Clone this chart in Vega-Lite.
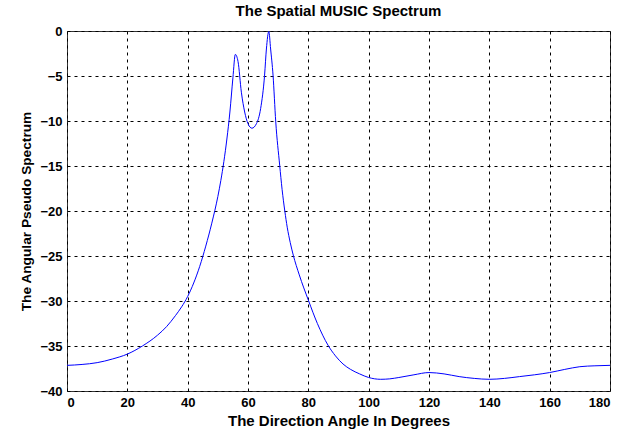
{
  "$schema": "https://vega.github.io/schema/vega-lite/v6.json",
  "width": 543,
  "height": 360,
  "autosize": {"type": "none"},
  "padding": {"left": 67, "top": 31, "right": 14, "bottom": 41},
  "background": "white",
  "title": {"text": "The Spatial MUSIC Spectrum", "font": "Liberation Sans", "fontSize": 15, "fontWeight": "bold", "color": "black", "offset": 6, "anchor": "middle"},
  "data": {"values": [
    {"angle": 0, "spectrum": -37.15},
    {"angle": 5, "spectrum": -37.05},
    {"angle": 10, "spectrum": -36.85},
    {"angle": 15, "spectrum": -36.45},
    {"angle": 20, "spectrum": -35.9},
    {"angle": 25, "spectrum": -35.0},
    {"angle": 30, "spectrum": -33.8},
    {"angle": 33, "spectrum": -32.85},
    {"angle": 36, "spectrum": -31.6},
    {"angle": 38, "spectrum": -30.65},
    {"angle": 40, "spectrum": -29.5},
    {"angle": 42, "spectrum": -28.0},
    {"angle": 44, "spectrum": -26.15},
    {"angle": 46, "spectrum": -23.9},
    {"angle": 48, "spectrum": -21.35},
    {"angle": 50, "spectrum": -18.4},
    {"angle": 51, "spectrum": -16.6},
    {"angle": 52, "spectrum": -14.5},
    {"angle": 53, "spectrum": -12.0},
    {"angle": 54, "spectrum": -9.0},
    {"angle": 55, "spectrum": -5.2},
    {"angle": 55.8, "spectrum": -2.6},
    {"angle": 56.7, "spectrum": -3.4},
    {"angle": 57.8, "spectrum": -6.8},
    {"angle": 58.9, "spectrum": -9.0},
    {"angle": 60, "spectrum": -10.3},
    {"angle": 61.3, "spectrum": -10.8},
    {"angle": 62.8, "spectrum": -10.3},
    {"angle": 64.2, "spectrum": -8.6},
    {"angle": 65.5, "spectrum": -4.9},
    {"angle": 66.1, "spectrum": -2.0},
    {"angle": 66.9, "spectrum": -0.05},
    {"angle": 67.5, "spectrum": -2.0},
    {"angle": 68.3, "spectrum": -4.9},
    {"angle": 69.2, "spectrum": -10.1},
    {"angle": 70.5, "spectrum": -14.9},
    {"angle": 71.3, "spectrum": -17.6},
    {"angle": 72.2, "spectrum": -20.0},
    {"angle": 73, "spectrum": -21.8},
    {"angle": 74, "spectrum": -23.5},
    {"angle": 75, "spectrum": -24.9},
    {"angle": 77, "spectrum": -27.1},
    {"angle": 80, "spectrum": -29.9},
    {"angle": 83, "spectrum": -32.5},
    {"angle": 86.5, "spectrum": -34.9},
    {"angle": 89, "spectrum": -36.1},
    {"angle": 91.5, "spectrum": -37.0},
    {"angle": 94, "spectrum": -37.6},
    {"angle": 97, "spectrum": -38.1},
    {"angle": 100, "spectrum": -38.5},
    {"angle": 104, "spectrum": -38.7},
    {"angle": 107, "spectrum": -38.65},
    {"angle": 110, "spectrum": -38.5},
    {"angle": 115, "spectrum": -38.2},
    {"angle": 120, "spectrum": -37.95},
    {"angle": 125, "spectrum": -38.1},
    {"angle": 130, "spectrum": -38.4},
    {"angle": 135, "spectrum": -38.6},
    {"angle": 140, "spectrum": -38.7},
    {"angle": 145, "spectrum": -38.6},
    {"angle": 150, "spectrum": -38.4},
    {"angle": 155, "spectrum": -38.2},
    {"angle": 160, "spectrum": -37.95},
    {"angle": 165, "spectrum": -37.6},
    {"angle": 170, "spectrum": -37.3},
    {"angle": 175, "spectrum": -37.2},
    {"angle": 180, "spectrum": -37.15}
  ]},
  "mark": {"type": "line", "color": "#0000ff", "strokeWidth": 1, "interpolate": "monotone"},
  "encoding": {
    "x": {"field": "angle", "type": "quantitative", "scale": {"domain": [0, 180], "nice": false},
      "axis": {"values": [0, 20, 40, 60, 80, 100, 120, 140, 160, 180], "title": "The Direction Angle In Degrees", "titleFontSize": 15, "labelPadding": 5, "titlePadding": 4}},
    "y": {"field": "spectrum", "type": "quantitative", "scale": {"domain": [-40, 0], "nice": false},
      "axis": {"values": [-40, -35, -30, -25, -20, -15, -10, -5, 0], "title": "The Angular Pseudo Spectrum", "titleFontSize": 13.7, "labelPadding": 5, "titlePadding": 6}}
  },
  "config": {
    "view": {"stroke": "#333333", "strokeWidth": 1},
    "axis": {
      "grid": true, "gridColor": "black", "gridDash": [3, 4], "gridOpacity": 1, "gridWidth": 1,
      "domain": false, "ticks": false,
      "labelFont": "Liberation Sans", "labelFontWeight": "bold", "labelFontSize": 13, "labelColor": "black",
      "titleFont": "Liberation Sans", "titleFontWeight": "bold", "titleColor": "black"
    }
  }
}
